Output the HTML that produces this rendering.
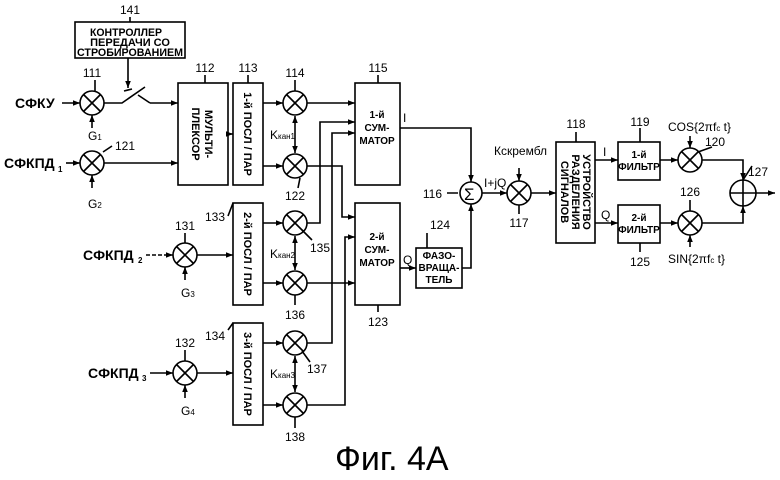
<!DOCTYPE html>
<html><head><meta charset="utf-8"><style>
html,body{margin:0;padding:0;background:#fff;}
svg{display:block;}
text{font-family:"Liberation Sans Narrow","Liberation Sans",sans-serif;fill:#000;}
</style></head><body>
<svg width="780" height="480" viewBox="0 0 780 480" xmlns="http://www.w3.org/2000/svg">
<defs>
<marker id="a" viewBox="0 0 10 10" refX="10" refY="5" markerWidth="7" markerHeight="7" orient="auto-start-reverse" markerUnits="userSpaceOnUse"><path d="M0,1 L10,5 L0,9 z" fill="#000"/></marker>
</defs>
<g stroke="#000" stroke-width="1.6" fill="none">
<rect x="75" y="22" width="110" height="36"/>
<rect x="178" y="83" width="50" height="102"/>
<rect x="233" y="83" width="30" height="102"/>
<rect x="233" y="203" width="30" height="102"/>
<rect x="233" y="323" width="30" height="102"/>
<rect x="355" y="83" width="45" height="102"/>
<rect x="355" y="203" width="45" height="102"/>
<rect x="416" y="248" width="46" height="40"/>
<rect x="556" y="142" width="39" height="101"/>
<rect x="618" y="142" width="42" height="38"/>
<rect x="618" y="205" width="42" height="38"/>
<g>
<circle cx="92" cy="103" r="12"/><circle cx="92" cy="163" r="12"/>
<circle cx="185" cy="255" r="12"/><circle cx="185" cy="373" r="12"/>
<circle cx="295" cy="103" r="12"/><circle cx="295" cy="166" r="12"/>
<circle cx="295" cy="223" r="12"/><circle cx="295" cy="283" r="12"/>
<circle cx="295" cy="343" r="12"/><circle cx="295" cy="405" r="12"/>
<circle cx="519" cy="193" r="12"/><circle cx="690" cy="160" r="12"/>
<circle cx="690" cy="223" r="12"/>
<circle cx="471" cy="193" r="11"/>
<circle cx="743" cy="193" r="13"/>
<path d="M730,193 H756 M743,180 V206"/>
</g>
<path d="M84,95 l16,16 M100,95 l-16,16 M84,155 l16,16 M100,155 l-16,16 M177,247 l16,16 M193,247 l-16,16 M177,365 l16,16 M193,365 l-16,16 M287,95 l16,16 M303,95 l-16,16 M287,158 l16,16 M303,158 l-16,16 M287,215 l16,16 M303,215 l-16,16 M287,275 l16,16 M303,275 l-16,16 M287,335 l16,16 M303,335 l-16,16 M287,397 l16,16 M303,397 l-16,16 M511,185 l16,16 M527,185 l-16,16 M682,152 l16,16 M698,152 l-16,16 M682,215 l16,16 M698,215 l-16,16"/>
<g marker-end="url(#a)">
<path d="M62,103 H80"/><path d="M66,163 H80"/>
<path d="M92,128 V115"/><path d="M92,188 V175"/>
<path d="M128,58 V88"/>
<path d="M150,103 H178"/>
<path d="M104,163 H178"/>
<path d="M228,134 H233"/>
<path d="M263,103 H283"/><path d="M263,166 H283"/>
<path d="M307,103 H355"/>
<path d="M307,166 H342 V217 H355"/>
<path d="M307,223 H320 V122 H355"/>
<path d="M307,343 H332 V133 H355"/>
<path d="M307,283 H355"/>
<path d="M307,405 H345 V237 H355"/>
<path d="M146,255 H173" stroke-dasharray="4,2"/><path d="M150,373 H173"/>
<path d="M185,280 V267"/><path d="M185,398 V385"/>
<path d="M197,255 H233"/><path d="M197,373 H233"/>
<path d="M263,223 H283"/><path d="M263,283 H283"/>
<path d="M263,343 H283"/><path d="M263,405 H283"/>
<path d="M400,128 H471 V182"/>
<path d="M400,268 H416"/>
<path d="M462,268 H471 V204"/>
<path d="M482,193 H507"/>
<path d="M519,168 V181"/>
<path d="M531,193 H556"/>
<path d="M595,160 H618"/><path d="M595,223 H618"/>
<path d="M660,160 H678"/><path d="M660,223 H678"/>
<path d="M690,136 V148"/><path d="M690,247 V235"/>
<path d="M702,160 H743 V180"/>
<path d="M702,223 H743 V206"/>
<path d="M756,193 H775"/>
</g>
<path d="M295,116 V153" marker-start="url(#a)" marker-end="url(#a)"/>
<path d="M295,236 V270" marker-start="url(#a)" marker-end="url(#a)"/>
<path d="M295,356 V392" marker-start="url(#a)" marker-end="url(#a)"/>
<path d="M104,103 H122 L145,87 M138,95 L150,103"/>
<path d="M124,91 L132,89"/>
<path d="M130,17 V22 M95,80 V91 M103,152 L112,146 M205,75 V83 M248,75 V83 M295,80 V91 M378,75 V83 M300,178 L298,188 M228,216 L233,203 M228,330 L233,323 M185,233 V243 M185,350 V361 M302,230 L312,240 M295,295 V305 M302,351 L310,362 M295,417 V428 M378,305 V312 M427,233 V248 M458,193 L447,193 M519,205 V214 M576,132 V142 M640,128 V142 M640,243 V252 M698,152 L712,147 M690,200 V211 M743,180 L752,166"/>
</g>
<text x="464" y="200" font-size="17" font-family="DejaVu Sans">Σ</text>
<g font-size="11" font-weight="bold">
<text x="126" y="36" text-anchor="middle" textLength="72" lengthAdjust="spacingAndGlyphs">КОНТРОЛЛЕР</text>
<text x="130" y="46" text-anchor="middle">ПЕРЕДАЧИ СО</text>
<text x="130" y="56" text-anchor="middle" textLength="106" lengthAdjust="spacingAndGlyphs">СТРОБИРОВАНИЕМ</text>
<text x="15" y="108" font-size="14" font-family="Liberation Sans">СФКУ</text>
<text x="4" y="168" font-size="14" font-family="Liberation Sans">СФКПД</text>
<text x="58" y="172" font-size="8">1</text>
<text x="83" y="260" font-size="14" font-family="Liberation Sans">СФКПД</text>
<text x="138" y="263" font-size="8">2</text>
<text x="88" y="378" font-size="14" font-family="Liberation Sans">СФКПД</text>
<text x="142" y="381" font-size="8">3</text>
</g>
<g font-size="12">
<text x="130" y="14" text-anchor="middle">141</text>
<text x="92" y="77" text-anchor="middle">111</text>
<text x="115" y="150">121</text>
<text x="205" y="72" text-anchor="middle">112</text>
<text x="248" y="72" text-anchor="middle">113</text>
<text x="295" y="77" text-anchor="middle">114</text>
<text x="378" y="72" text-anchor="middle">115</text>
<text x="295" y="200" text-anchor="middle">122</text>
<text x="215" y="221" text-anchor="middle">133</text>
<text x="185" y="230" text-anchor="middle">131</text>
<text x="310" y="252">135</text>
<text x="295" y="319" text-anchor="middle">136</text>
<text x="215" y="340" text-anchor="middle">134</text>
<text x="185" y="347" text-anchor="middle">132</text>
<text x="307" y="373">137</text>
<text x="295" y="441" text-anchor="middle">138</text>
<text x="378" y="326" text-anchor="middle">123</text>
<text x="440" y="229" text-anchor="middle">124</text>
<text x="442" y="198" text-anchor="end">116</text>
<text x="519" y="227" text-anchor="middle">117</text>
<text x="576" y="128" text-anchor="middle">118</text>
<text x="640" y="126" text-anchor="middle">119</text>
<text x="715" y="146" text-anchor="middle">120</text>
<text x="690" y="196" text-anchor="middle">126</text>
<text x="640" y="266" text-anchor="middle">125</text>
<text x="758" y="176" text-anchor="middle">127</text>
<text x="88" y="140">G<tspan font-size="8">1</tspan></text>
<text x="88" y="208">G<tspan font-size="8">2</tspan></text>
<text x="181" y="297">G<tspan font-size="8">3</tspan></text>
<text x="181" y="415">G<tspan font-size="8">4</tspan></text>
<text x="270" y="139">K<tspan font-size="8">кан1</tspan></text>
<text x="270" y="258">K<tspan font-size="8">кан2</tspan></text>
<text x="270" y="378">K<tspan font-size="8">кан3</tspan></text>
<text x="403" y="122">I</text>
<text x="403" y="264">Q</text>
<text x="484" y="187">I+jQ</text>
<text x="494" y="155">Кскрембл</text>
<text x="603" y="156">I</text>
<text x="601" y="219">Q</text>
<text x="668" y="131">COS{2πf<tspan font-size="8">c</tspan> t}</text>
<text x="668" y="263">SIN{2πf<tspan font-size="8">c</tspan> t}</text>
</g>
<g font-size="10" font-weight="bold" text-anchor="middle">
<text x="377" y="118">1-й</text><text x="377" y="131">СУМ-</text><text x="377" y="144">МАТОР</text>
<text x="377" y="240">2-й</text><text x="377" y="253">СУМ-</text><text x="377" y="266">МАТОР</text>
<text x="439" y="259">ФАЗО-</text><text x="439" y="271">ВРАЩА-</text><text x="439" y="283">ТЕЛЬ</text>
<text x="639" y="158">1-й</text><text x="639" y="170">ФИЛЬТР</text>
<text x="639" y="221">2-й</text><text x="639" y="233">ФИЛЬТР</text>
</g>
<g font-size="11" font-weight="bold" text-anchor="middle">
<text transform="translate(203,134) rotate(90)" y="-2">МУЛЬТИ-</text>
<text transform="translate(203,134) rotate(90)" y="11">ПЛЕКСОР</text>
<text transform="translate(248,134) rotate(90)" y="4">1-й ПОСЛ / ПАР</text>
<text transform="translate(248,254) rotate(90)" y="4">2-й ПОСЛ / ПАР</text>
<text transform="translate(248,374) rotate(90)" y="4">3-й ПОСЛ / ПАР</text>
<text transform="translate(575,192) rotate(90)" y="-8">УСТРОЙСТВО</text>
<text transform="translate(575,192) rotate(90)" y="3">РАЗДЕЛЕНИЯ</text>
<text transform="translate(575,192) rotate(90)" y="14">СИГНАЛОВ</text>
</g>
<text x="335" y="470" font-size="34" font-family="Liberation Sans">Фиг. 4А</text>
</svg>
</body></html>
